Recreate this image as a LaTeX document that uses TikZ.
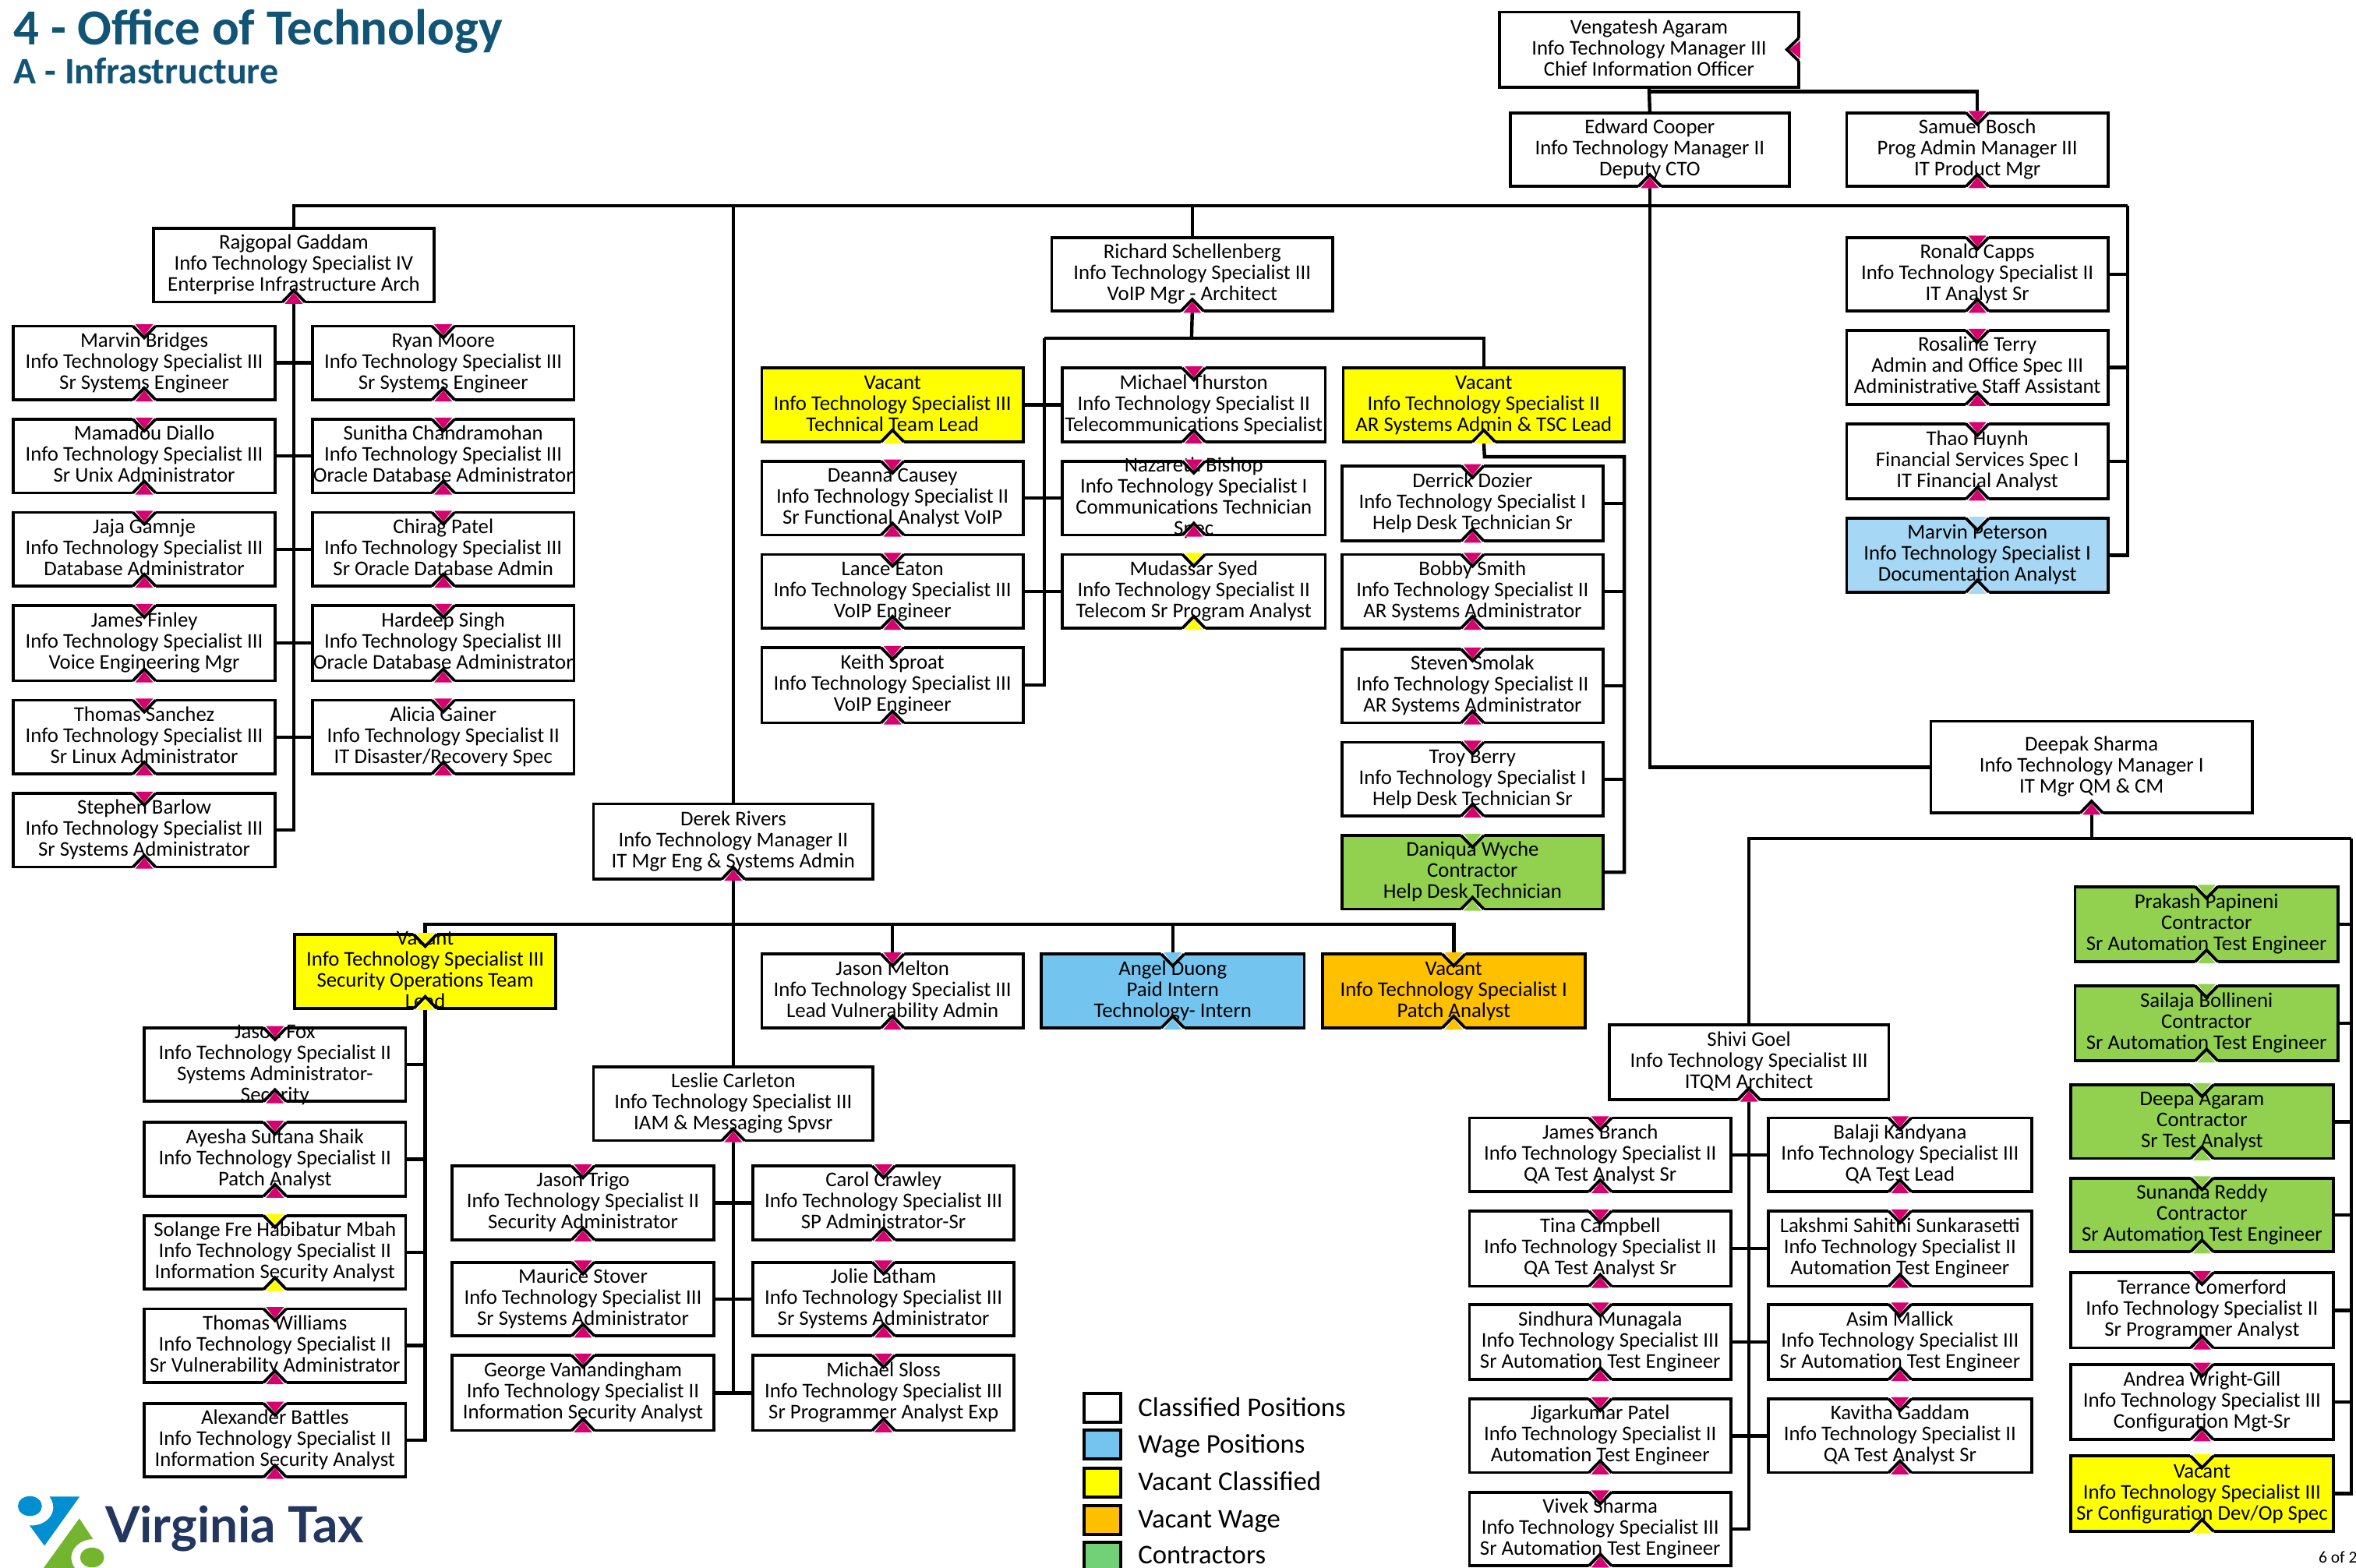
\documentclass[tikz,border=0pt]{standalone}
\usepackage{fontspec}
\setmainfont{Carlito}
\newfontfamily\logofont{Lato}
\definecolor{tabpink}{HTML}{D6006F}
\definecolor{wageblue}{HTML}{73C5F0}
\definecolor{wagelight}{HTML}{A6D8F5}
\definecolor{vacyellow}{HTML}{FFFF00}
\definecolor{vacorange}{HTML}{FFC000}
\definecolor{contgreen}{HTML}{92D050}
\definecolor{legendgreen}{HTML}{72D076}
\definecolor{titleblue}{HTML}{115475}
\definecolor{logoblue}{HTML}{008FD0}
\definecolor{logogreen}{HTML}{74B52F}
\definecolor{logonavy}{HTML}{22365F}
\pgfdeclarelayer{conn}
\pgfsetlayers{conn,main}
\tikzset{
  x=1.92793pt,y=-1.92810pt,
  posn/.style={draw=black,line width=3.8pt,rectangle,inner sep=0pt,outer sep=0pt,
    font=\fontsize{26.8}{27}\selectfont},
  conline/.style={draw=black,line width=4.4pt,line cap=butt},
  legendbox/.style={draw=black,line width=4pt,rectangle,inner sep=0pt,outer sep=0pt},
  legendtext/.style={font=\fontsize{34.7}{36}\selectfont,anchor=base west,inner sep=0pt,outer sep=0pt},
  vline/.style={draw=black,line width=3.8pt,line join=miter}
}
% plain position box: name, left, top, right, bottom, fill, text
\newcommand{\pbox}[7]{%
  \node[posn,fill=#6,minimum width={(#4-#2)*1.92793pt},minimum height={(#5-#3)*1.9281pt}]
    (#1) at ({(#2+#4)/2},{(#3+#5)/2}) {\makebox[0pt]{\lower 2.2pt\vbox to 0pt{\vss\hbox{\begin{tabular}{@{}c@{}}#7\end{tabular}}\vss}}};}
\newcommand{\tabt}[2]{%
  \fill[white] ([shift={(-15.5pt,2.2pt)}]#1.north) -- ([shift={(15.5pt,2.2pt)}]#1.north) -- ([shift={(0pt,-15pt)}]#1.north) -- cycle;
  \fill[#2] ([shift={(-11.5pt,2.2pt)}]#1.north) -- ([shift={(11.5pt,2.2pt)}]#1.north) -- ([shift={(0pt,-12pt)}]#1.north) -- cycle;
  \draw[vline] ([shift={(-14.5pt,0pt)}]#1.north) -- ([shift={(0pt,-15pt)}]#1.north) -- ([shift={(14.5pt,0pt)}]#1.north);}
\newcommand{\tabb}[2]{%
  \fill[white] ([shift={(-15.5pt,-2.2pt)}]#1.south) -- ([shift={(15.5pt,-2.2pt)}]#1.south) -- ([shift={(0pt,15pt)}]#1.south) -- cycle;
  \fill[#2] ([shift={(-11.5pt,-2.2pt)}]#1.south) -- ([shift={(11.5pt,-2.2pt)}]#1.south) -- ([shift={(0pt,12pt)}]#1.south) -- cycle;
  \draw[vline] ([shift={(-14.5pt,0pt)}]#1.south) -- ([shift={(0pt,15pt)}]#1.south) -- ([shift={(14.5pt,0pt)}]#1.south);}
% box with both tabs: name,left,top,right,bottom,fill,tabcolour,text
\newcommand{\tbox}[8]{\pbox{#1}{#2}{#3}{#4}{#5}{#6}{#8}\tabt{#1}{#7}\tabb{#1}{#7}}
\newcommand{\its}[1]{Info Technology Specialist #1}
\begin{document}
\begin{tikzpicture}
\useasboundingbox (0,0) rectangle (1568,1043);
% titles
\node[anchor=base west,inner sep=0pt,text=titleblue,font=\fontsize{64.8}{66}\selectfont\bfseries] (title) at (9,29.7) {4 - Office of Technology};
\node[anchor=base west,inner sep=0pt,text=titleblue,font=\fontsize{48}{50}\selectfont\bfseries] (subtitle) at (9,56) {A - Infrastructure};
% top
\pbox{cio}{998}{8}{1197}{58}{white}{Vengatesh Agaram\\Info Technology Manager III\\Chief Information Officer}
\fill[white] ([shift={(2.2pt,-15pt)}]cio.east) -- ([shift={(2.2pt,15pt)}]cio.east) -- ([shift={(-15pt,0pt)}]cio.east) -- cycle;
\fill[tabpink] ([shift={(2.2pt,-11.5pt)}]cio.east) -- ([shift={(2.2pt,11.5pt)}]cio.east) -- ([shift={(-12pt,0pt)}]cio.east) -- cycle;
\draw[vline] ([shift={(0pt,-14.5pt)}]cio.east) -- ([shift={(-15pt,0pt)}]cio.east) -- ([shift={(0pt,14.5pt)}]cio.east);
\pbox{cooper}{1005}{75}{1191}{124}{white}{Edward Cooper\\Info Technology Manager II\\Deputy CTO}\tabb{cooper}{tabpink}
\tbox{bosch}{1229}{75}{1403}{124}{white}{tabpink}{Samuel Bosch\\Prog Admin Manager III\\IT Product Mgr}
\pbox{gaddam}{102}{152}{289}{201}{white}{Rajgopal Gaddam\\\its{IV}\\Enterprise Infrastructure Arch}\tabb{gaddam}{tabpink}
\pbox{schell}{700}{158}{887}{207}{white}{Richard Schellenberg\\\its{III}\\VoIP Mgr - Architect}\tabb{schell}{tabpink}
\pbox{rivers}{395}{535}{581}{585}{white}{Derek Rivers\\Info Technology Manager II\\IT Mgr Eng \& Systems Admin}\tabb{rivers}{tabpink}
\pbox{carleton}{395}{710}{581}{759}{white}{Leslie Carleton\\\its{III}\\IAM \& Messaging Spvsr}\tabb{carleton}{tabpink}
\pbox{goel}{1071}{682}{1257}{732}{white}{Shivi Goel\\\its{III}\\ITQM Architect}\tabb{goel}{tabpink}
\pbox{sharma}{1285}{480}{1499}{541}{white}{Deepak Sharma\\Info Technology Manager I\\IT Mgr QM \& CM}\tabb{sharma}{tabpink}
% Gaddam's reports
\tbox{bridges}{9}{217}{183}{266}{white}{tabpink}{Marvin Bridges\\\its{III}\\Sr Systems Engineer}
\tbox{diallo}{9}{279}{183}{328}{white}{tabpink}{Mamadou Diallo\\\its{III}\\Sr Unix Administrator}
\tbox{gamnje}{9}{341}{183}{390}{white}{tabpink}{Jaja Gamnje\\\its{III}\\Database Administrator}
\tbox{finley}{9}{403}{183}{453}{white}{tabpink}{James Finley\\\its{III}\\Voice Engineering Mgr}
\tbox{sanchez}{9}{466}{183}{515}{white}{tabpink}{Thomas Sanchez\\\its{III}\\Sr Linux Administrator}
\tbox{barlow}{9}{528}{183}{577}{white}{tabpink}{Stephen Barlow\\\its{III}\\Sr Systems Administrator}
\tbox{moore}{208}{217}{382}{266}{white}{tabpink}{Ryan Moore\\\its{III}\\Sr Systems Engineer}
\tbox{chandra}{208}{279}{382}{328}{white}{tabpink}{Sunitha Chandramohan\\\its{III}\\Oracle Database Administrator}
\tbox{patel}{208}{341}{382}{390}{white}{tabpink}{Chirag Patel\\\its{III}\\Sr Oracle Database Admin}
\tbox{singh}{208}{403}{382}{453}{white}{tabpink}{Hardeep Singh\\\its{III}\\Oracle Database Administrator}
\tbox{gainer}{208}{466}{382}{515}{white}{tabpink}{Alicia Gainer\\\its{II}\\IT Disaster/Recovery Spec}
% Schellenberg's reports
\pbox{vacttl}{507}{245}{681}{294}{vacyellow}{Vacant\\\its{III}\\Technical Team Lead}\tabb{vacttl}{vacyellow}
\tbox{causey}{507}{307}{681}{356}{white}{tabpink}{Deanna Causey\\\its{II}\\Sr Functional Analyst VoIP}
\tbox{eaton}{507}{369}{681}{418}{white}{tabpink}{Lance Eaton\\\its{III}\\VoIP Engineer}
\tbox{sproat}{507}{431}{681}{481}{white}{tabpink}{Keith Sproat\\\its{III}\\VoIP Engineer}
\tbox{thurston}{707}{245}{882}{294}{white}{tabpink}{Michael Thurston\\\its{II}\\Telecommunications Specialist}
\tbox{bishop}{707}{307}{882}{356}{white}{tabpink}{Nazareth Bishop\\\its{I}\\Communications Technician\\Spec}
\tbox{syed}{707}{369}{882}{418}{white}{vacyellow}{Mudassar Syed\\\its{II}\\Telecom Sr Program Analyst}
\pbox{vacar}{894}{245}{1081}{294}{vacyellow}{Vacant\\\its{II}\\AR Systems Admin \& TSC Lead}\tabb{vacar}{vacyellow}
\tbox{dozier}{893}{310}{1067}{360}{white}{tabpink}{Derrick Dozier\\\its{I}\\Help Desk Technician Sr}
\tbox{smith}{893}{369}{1067}{418}{white}{tabpink}{Bobby Smith\\\its{II}\\AR Systems Administrator}
\tbox{smolak}{893}{432}{1067}{481}{white}{tabpink}{Steven Smolak\\\its{II}\\AR Systems Administrator}
\tbox{berry}{893}{494}{1067}{543}{white}{tabpink}{Troy Berry\\\its{I}\\Help Desk Technician Sr}
\tbox{wyche}{893}{556}{1067}{605}{contgreen}{contgreen}{Daniqua Wyche\\Contractor\\Help Desk Technician}
% right column
\tbox{capps}{1229}{158}{1403}{207}{white}{tabpink}{Ronald Capps\\\its{II}\\IT Analyst Sr}
\tbox{terry}{1229}{220}{1403}{269}{white}{tabpink}{Rosaline Terry\\Admin and Office Spec III\\Administrative Staff Assistant}
\tbox{huynh}{1229}{282}{1403}{332}{white}{tabpink}{Thao Huynh\\Financial Services Spec I\\IT Financial Analyst}
\tbox{peterson}{1229}{345}{1403}{394}{wagelight}{wagelight}{Marvin Peterson\\\its{I}\\Documentation Analyst}
% Rivers's reports
\tbox{vacsec}{196}{622}{370}{671}{vacyellow}{vacyellow}{Vacant\\\its{III}\\Security Operations Team\\Lead}
\tbox{melton}{507}{635}{681}{684}{white}{tabpink}{Jason Melton\\\its{III}\\Lead Vulnerability Admin}
\tbox{duong}{693}{635}{868}{684}{wageblue}{wageblue}{Angel Duong\\Paid Intern\\Technology- Intern}
\tbox{vacpatch}{880}{635}{1055}{684}{vacorange}{vacorange}{Vacant\\\its{I}\\Patch Analyst}
\tbox{fox}{96}{684}{270}{733}{white}{tabpink}{Jason Fox\\\its{II}\\Systems Administrator-\\Security}
\tbox{shaik}{96}{747}{270}{796}{white}{tabpink}{Ayesha Sultana Shaik\\\its{II}\\Patch Analyst}
\tbox{mbah}{96}{809}{270}{858}{white}{vacyellow}{Solange Fre Habibatur Mbah\\\its{II}\\Information Security Analyst}
\tbox{williams}{96}{871}{270}{920}{white}{tabpink}{Thomas Williams\\\its{II}\\Sr Vulnerability Administrator}
\tbox{battles}{96}{934}{270}{983}{white}{tabpink}{Alexander Battles\\\its{II}\\Information Security Analyst}
% Carleton's reports
\tbox{trigo}{301}{776}{475}{825}{white}{tabpink}{Jason Trigo\\\its{II}\\Security Administrator}
\tbox{stover}{301}{840}{475}{889}{white}{tabpink}{Maurice Stover\\\its{III}\\Sr Systems Administrator}
\tbox{vanland}{301}{902}{475}{952}{white}{tabpink}{George Vanlandingham\\\its{II}\\Information Security Analyst}
\tbox{crawley}{501}{776}{675}{825}{white}{tabpink}{Carol Crawley\\\its{III}\\SP Administrator-Sr}
\tbox{latham}{501}{840}{675}{889}{white}{tabpink}{Jolie Latham\\\its{III}\\Sr Systems Administrator}
\tbox{sloss}{501}{902}{675}{952}{white}{tabpink}{Michael Sloss\\\its{III}\\Sr Programmer Analyst Exp}
% Goel's reports
\tbox{branch}{978}{744}{1152}{793}{white}{tabpink}{James Branch\\\its{II}\\QA Test Analyst Sr}
\tbox{campbell}{978}{806}{1152}{856}{white}{tabpink}{Tina Campbell\\\its{II}\\QA Test Analyst Sr}
\tbox{munagala}{978}{868}{1152}{918}{white}{tabpink}{Sindhura Munagala\\\its{III}\\Sr Automation Test Engineer}
\tbox{jpatel}{978}{931}{1152}{980}{white}{tabpink}{Jigarkumar Patel\\\its{II}\\Automation Test Engineer}
\tbox{vsharma}{978}{993}{1152}{1042}{white}{tabpink}{Vivek Sharma\\\its{III}\\Sr Automation Test Engineer}
\tbox{kandyana}{1177}{744}{1352}{793}{white}{tabpink}{Balaji Kandyana\\\its{III}\\QA Test Lead}
\tbox{sunkara}{1177}{806}{1352}{856}{white}{tabpink}{Lakshmi Sahithi Sunkarasetti\\\its{II}\\Automation Test Engineer}
\tbox{mallick}{1177}{868}{1352}{918}{white}{tabpink}{Asim Mallick\\\its{III}\\Sr Automation Test Engineer}
\tbox{kgaddam}{1177}{931}{1352}{980}{white}{tabpink}{Kavitha Gaddam\\\its{II}\\QA Test Analyst Sr}
% Sharma's direct column
\tbox{papineni}{1381}{590}{1556}{640}{contgreen}{contgreen}{Prakash Papineni\\Contractor\\Sr Automation Test Engineer}
\tbox{bollineni}{1381}{656}{1556}{706}{contgreen}{contgreen}{Sailaja Bollineni\\Contractor\\Sr Automation Test Engineer}
\tbox{agaram}{1378}{722}{1553}{771}{contgreen}{contgreen}{Deepa Agaram\\Contractor\\Sr Test Analyst}
\tbox{reddy}{1378}{784}{1553}{833}{contgreen}{contgreen}{Sunanda Reddy\\Contractor\\Sr Automation Test Engineer}
\tbox{comerford}{1378}{847}{1553}{897}{white}{tabpink}{Terrance Comerford\\\its{II}\\Sr Programmer Analyst}
\tbox{wright}{1378}{908}{1553}{958}{white}{tabpink}{Andrea Wright-Gill\\\its{III}\\Configuration Mgt-Sr}
\tbox{vaccfg}{1378}{969}{1553}{1019}{vacyellow}{vacyellow}{Vacant\\\its{III}\\Sr Configuration Dev/Op Spec}
% spine coordinates
\coordinate (cioBus) at (1098,61);
\coordinate (mainBus) at (1098,137);
\coordinate (mainEnd) at (1416,137);
\coordinate (gaddamSpine) at (196,300);
\coordinate (schellBus) at (793,225);
\coordinate (schellSpine) at (695,300);
\coordinate (arBus) at (988,304);
\coordinate (arSpine) at (1081,400);
\coordinate (riversBus) at (488,615);
\coordinate (secSpine) at (283,800);
\coordinate (sharmaBus) at (1392,558);
\coordinate (sharmaEnd) at (1565,558);
\begin{pgfonlayer}{conn}
\fill[white] (0,0) rectangle (1568,1043);
\draw[conline] (cio.south) -- (cooper.north);
\draw[conline] (cioBus) -| (bosch.north);
\draw[conline] (cooper.south) -- (mainBus);
\draw[conline] (gaddam.north) |- (mainEnd);
\draw[conline] (mainEnd) |- (peterson.east);
\foreach \n in {capps,terry,huynh} \draw[conline] (\n.east) -- (\n.east -| mainEnd);
\draw[conline] (schell.north) -- (schell.north |- mainBus);
\draw[conline] (rivers.north) -- (rivers.north |- mainBus);
\draw[conline] (mainBus) |- (sharma.west);
% Gaddam
\draw[conline] (gaddam.south) -- (gaddam.south |- barlow.east) -- (barlow.east);
\foreach \n in {bridges,diallo,gamnje,finley,sanchez}
  \draw[conline] (\n.east -| gaddamSpine) -- (\n.east);
\foreach \n in {moore,chandra,patel,singh,gainer}
  \draw[conline] (\n.west) -- (\n.west -| gaddamSpine);
% Schellenberg
\draw[conline] (schell.south) -- (schellBus);
\draw[conline] (schellSpine |- schellBus) -| (vacar.north);
\draw[conline] (schellSpine |- schellBus) -- (schellSpine |- sproat.east) -- (sproat.east);
\foreach \a/\b in {vacttl/thurston,causey/bishop,eaton/syed} \draw[conline] (\a.east) -- (\b.west);
% AR
\draw[conline] (vacar.south) -- (arBus) -| (wyche.east -| arSpine) -- (wyche.east);
\foreach \n in {dozier,smith,smolak,berry} \draw[conline] (\n.east) -- (\n.east -| arSpine);
% Rivers
\draw[conline] (rivers.south) -- (carleton.north);
\draw[conline] (vacsec.north) |- (riversBus);
\draw[conline] (riversBus) -| (vacpatch.north);
\draw[conline] (melton.north) -- (melton.north |- riversBus);
\draw[conline] (duong.north) -- (duong.north |- riversBus);
\draw[conline] (vacsec.south) -- (vacsec.south |- battles.east) -- (battles.east);
\foreach \n in {fox,shaik,mbah,williams} \draw[conline] (\n.east) -- (\n.east -| secSpine);
% Carleton
\draw[conline] (carleton.south) -- (carleton.south |- vanland.east);
\foreach \a/\b in {trigo/crawley,stover/latham,vanland/sloss} \draw[conline] (\a.east) -- (\b.west);
% Sharma and Goel
\draw[conline] (sharma.south) -- (sharmaBus);
\draw[conline] (goel.north) |- (sharmaEnd);
\draw[conline] (sharmaEnd) |- (vaccfg.east);
\foreach \n in {papineni,bollineni,agaram,reddy,comerford,wright} \draw[conline] (\n.east) -- (\n.east -| sharmaEnd);
\draw[conline] (goel.south) -- (goel.south |- vsharma.east) -- (vsharma.east);
\foreach \a/\b in {branch/kandyana,campbell/sunkara,munagala/mallick,jpatel/kgaddam} \draw[conline] (\a.east) -- (\b.west);
\end{pgfonlayer}
% legend
\foreach \i/\yy/\by/\col/\lab in {a/937/942.4/white/Classified Positions,b/961.5/967/wageblue/Wage Positions,c/986.5/992/vacyellow/Vacant Classified,d/1011.5/1017/vacorange/Vacant Wage,e/1036/1040.5/legendgreen/Contractors}{
  \node[legendbox,fill=\col,minimum width=47pt,minimum height=37pt] (leg\i) at (733.5,\yy) {};
  \node[legendtext] (legt\i) at (757.5,\by) {\lab};
}
% page number
\node[anchor=base west,inner sep=0pt,font=\fontsize{21.5}{24}\selectfont] (pageno) at (1543,1040) {6 of 2};
% logo
\fill[logoblue] (33,996) -- (53,996) -- (29.6,1028.7) -- (19.7,1015.2) .. controls (31,1016) and (40,1006) .. cycle;
\fill[logoblue] (19.9,1002.3) ellipse (8 and 6.6);
\fill[logogreen] (52.8,1010.5) -- (62,1024.4) .. controls (52,1024) and (43,1034) .. (49.8,1043.5) -- (29,1043.5) -- cycle;
\fill[logogreen] (61.3,1036.5) ellipse (8 and 6.6);
\node[anchor=base west,inner sep=0pt,text=logonavy,font=\fontsize{64}{64}\logofont\bfseries\selectfont] (logotext) at (70,1026.5) {Virginia Tax};
\end{tikzpicture}
\end{document}
